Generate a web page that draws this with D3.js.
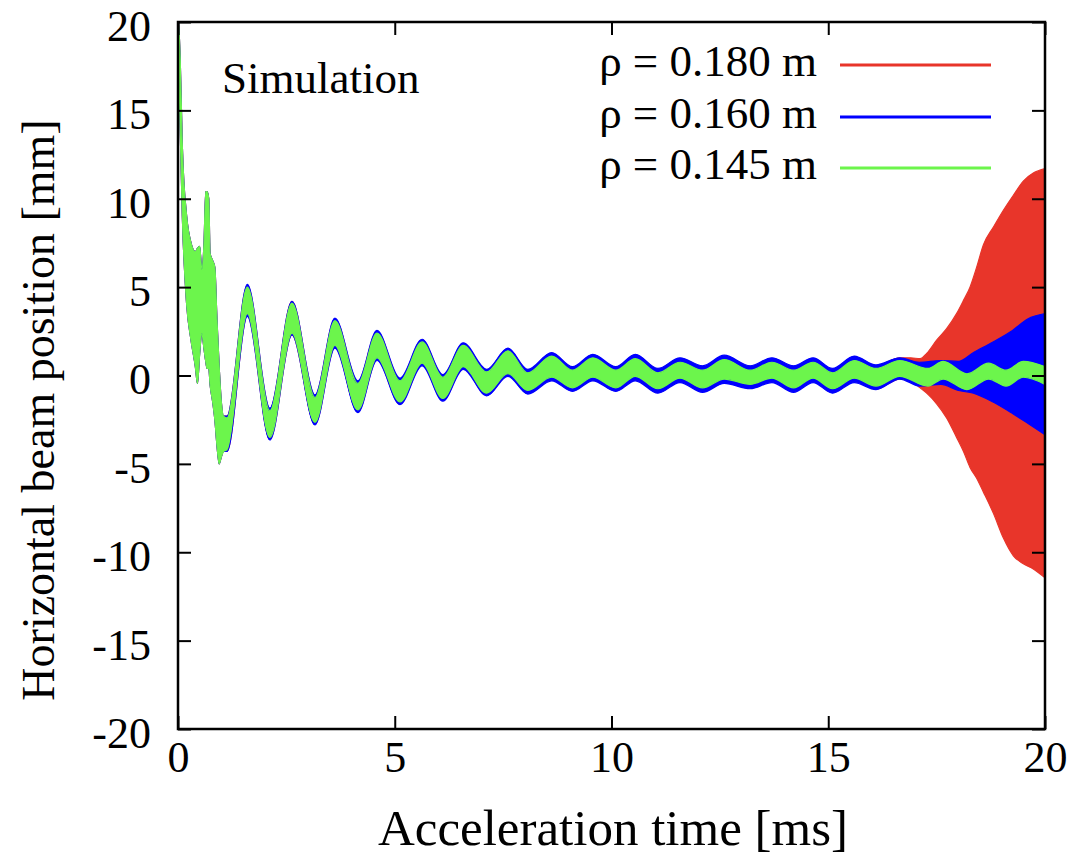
<!DOCTYPE html>
<html>
<head>
<meta charset="utf-8">
<script src="https://cdn.jsdelivr.net/npm/d3@7"></script>
<style>
  html, body { margin: 0; padding: 0; background: #fff; }
  svg text { font-family: "Liberation Serif", "Times New Roman", serif; fill: #000; }
</style>
</head>
<body>
<svg id="chart" width="1071" height="856"></svg>
<script>
// ---------------- data ----------------
const xTicks = [0, 5, 10, 15, 20];
const yTicks = [-20, -15, -10, -5, 0, 5, 10, 15, 20];
const seriesNames = ["ρ = 0.180 m", "ρ = 0.160 m", "ρ = 0.145 m"];
const seriesColors = ["#e8352a", "#0000ff", "#6cf54c"];

// early, noisy injection region (envelope common to all three runs)
const earlyT     = [0, 0.05, 0.1, 0.2, 0.3, 0.4, 0.45, 0.5, 0.55, 0.6, 0.64, 0.67, 0.71, 0.74, 0.8, 0.85, 0.9, 0.95, 1.0, 1.05];
const earlyUpper = [20.5, 18, 13, 9, 7.5, 7, 7.2, 7.3, 6, 7.5, 10.4, 10.4, 10, 6.9, 6.5, 6.1, 3.1, 0.5, -1.5, -2.3];
const earlyLower = [19.5, 14, 9, 4, 2, 0.5, -0.45, 1.25, 2.4, 1.5, 0.8, 0.4, 0.4, -0.5, -1.5, -2.5, -4, -5.0, -4.6, -4.3];

// damped betatron oscillation (peaks / troughs), band centre and half widths
const oscT      = [1.13, 1.6, 2.12, 2.63, 3.16, 3.62, 4.15, 4.59, 5.12, 5.63, 6.11, 6.58, 7.12, 7.61, 8.07, 8.62, 9.1, 9.57, 10.1, 10.55, 11.07, 11.58, 12.1, 12.6, 13.2, 13.7, 14.2, 14.65, 15.1, 15.6, 16.1, 16.65];
const oscCenter = [-3.3, 4.25, -2.75, 3.25, -1.95, 2.4, -1.2, 1.7, -0.9, 1.3, -0.7, 1.1, -0.4, 0.75, -0.35, 0.5, -0.2, 0.45, -0.2, 0.45, -0.3, 0.3, -0.2, 0.35, -0.1, 0.3, -0.2, 0.3, -0.3, 0.35, -0.1, 0.4];
const greenHalf = [0.9, 0.75, 0.75, 0.85, 0.7, 0.7, 0.75, 0.7, 0.6, 0.6, 0.6, 0.6, 0.6, 0.65, 0.5, 0.6, 0.5, 0.55, 0.5, 0.5, 0.45, 0.45, 0.5, 0.55, 0.4, 0.45, 0.5, 0.45, 0.45, 0.5, 0.5, 0.45];
const blueHalf  = [1.0, 0.9, 0.9, 0.95, 0.85, 0.85, 0.9, 0.85, 0.75, 0.75, 0.75, 0.75, 0.75, 0.8, 0.7, 0.8, 0.7, 0.75, 0.7, 0.75, 0.7, 0.7, 0.75, 0.8, 0.65, 0.7, 0.75, 0.7, 0.7, 0.75, 0.7, 0.6];
const redHalf   = [1.0, 0.85, 0.85, 0.95, 0.8, 0.8, 0.85, 0.8, 0.7, 0.7, 0.7, 0.7, 0.7, 0.75, 0.65, 0.75, 0.65, 0.7, 0.65, 0.7, 0.65, 0.65, 0.7, 0.75, 0.6, 0.65, 0.7, 0.65, 0.65, 0.7, 0.65, 0.6];

// late part of each run
const greenTailT      = [17.3, 17.65, 18.2, 18.7, 19.1, 19.5, 20.0];
const greenTailCenter = [-0.1, 0.3, -0.35, 0.25, -0.15, 0.35, 0.0];
const greenTailHalf   = [0.5, 0.5, 0.45, 0.45, 0.45, 0.45, 0.5];

const blueTailT     = [17.1, 17.6, 18.0, 18.35, 18.8, 19.25, 19.6, 20.0];
const blueTailUpper = [0.75, 0.85, 0.8, 1.3, 1.9, 2.55, 3.2, 3.5];
const blueTailLower = [-0.6, -0.5, -0.85, -1.0, -1.5, -2.15, -2.7, -3.35];

const redTailT     = [16.9, 17.12, 17.27, 17.5, 17.73, 17.96, 18.12, 18.27, 18.42, 18.58, 18.81, 19.04, 19.27, 19.5, 19.73, 20.0];
const redTailUpper = [1.0, 0.95, 1.25, 2.0, 2.65, 3.5, 4.25, 5.0, 6.1, 7.4, 8.4, 9.35, 10.2, 11.0, 11.45, 11.7];
const redTailLower = [-0.3, -0.7, -1.0, -1.6, -2.4, -3.5, -4.3, -5.2, -5.8, -6.6, -7.8, -9.2, -10.2, -10.65, -10.95, -11.45];

// ---------------- layout ----------------
const plot = { left: 178, right: 1045, top: 22, bottom: 729 };

const svg = d3.select("#chart");
const x = d3.scaleLinear().domain([0, 20]).range([plot.left, plot.right]);
const y = d3.scaleLinear().domain([-20, 20]).range([plot.bottom, plot.top]);

svg.append("defs").append("clipPath").attr("id", "clip")
  .append("rect").attr("x", plot.left).attr("y", plot.top)
  .attr("width", plot.right - plot.left).attr("height", plot.bottom - plot.top);

// build band records {t, lo, hi}
function earlyBand() {
  return earlyT.map((t, i) => ({ t, lo: earlyLower[i], hi: earlyUpper[i] }));
}
function oscBand(half) {
  return oscT.map((t, i) => ({ t, lo: oscCenter[i] - half[i], hi: oscCenter[i] + half[i] }));
}
const redBand = earlyBand().concat(oscBand(redHalf),
  redTailT.map((t, i) => ({ t, lo: redTailLower[i], hi: redTailUpper[i] })));
const blueBand = earlyBand().concat(oscBand(blueHalf),
  blueTailT.map((t, i) => ({ t, lo: blueTailLower[i], hi: blueTailUpper[i] })));
const greenBand = earlyBand().concat(oscBand(greenHalf),
  greenTailT.map((t, i) => ({ t, lo: greenTailCenter[i] - greenTailHalf[i], hi: greenTailCenter[i] + greenTailHalf[i] })));

const area = d3.area()
  .x(d => x(d.t)).y0(d => y(d.lo)).y1(d => y(d.hi))
  .curve(d3.curveMonotoneX);

const gData = svg.append("g").attr("clip-path", "url(#clip)");
[redBand, blueBand, greenBand].forEach((band, i) => {
  gData.append("path").datum(band)
    .attr("d", area)
    .attr("fill", seriesColors[i])
    .attr("stroke", seriesColors[i])
    .attr("stroke-width", 1.2)
    .attr("stroke-linejoin", "round");
});

// ---------------- axes ----------------
const tickFont = 44;
const fmt = d => String(d);
const gx = svg.append("g").attr("transform", `translate(0,${plot.bottom})`)
  .call(d3.axisBottom(x).tickValues(xTicks).tickSize(-13).tickPadding(12).tickFormat(fmt));
const gxTop = svg.append("g").attr("transform", `translate(0,${plot.top})`)
  .call(d3.axisTop(x).tickValues(xTicks).tickSize(-13).tickFormat(""));
const gy = svg.append("g").attr("transform", `translate(${plot.left},0)`)
  .call(d3.axisLeft(y).tickValues(yTicks).tickSize(-13).tickPadding(27).tickFormat(fmt));
const gyR = svg.append("g").attr("transform", `translate(${plot.right},0)`)
  .call(d3.axisRight(y).tickValues(yTicks).tickSize(-13).tickFormat(""));

[gx, gxTop, gy, gyR].forEach(g => {
  g.attr("font-family", null).attr("font-size", null);
  g.select(".domain").remove();
  g.selectAll(".tick line").attr("stroke", "#000").attr("stroke-width", 2);
  g.selectAll(".tick text").style("font-size", tickFont + "px")
    .style("font-family", '"Liberation Serif", serif').attr("fill", "#000");
});
gy.selectAll(".tick text").attr("dy", "0.42em");

svg.append("rect")
  .attr("x", plot.left).attr("y", plot.top)
  .attr("width", plot.right - plot.left).attr("height", plot.bottom - plot.top)
  .attr("fill", "none").attr("stroke", "#000").attr("stroke-width", 2.5);

// axis titles
svg.append("text")
  .attr("x", 613).attr("y", 845)
  .attr("text-anchor", "middle").style("font-size", "51px")
  .text("Acceleration time [ms]");
svg.append("text")
  .attr("transform", `translate(54,410) rotate(-90)`)
  .attr("text-anchor", "middle").style("font-size", "46px")
  .text("Horizontal beam position [mm]");

// annotation
svg.append("text").attr("x", 222).attr("y", 93)
  .style("font-size", "45px").text("Simulation");

// legend
const legendRows = [65, 117, 168];
seriesNames.forEach((name, i) => {
  svg.append("text").attr("x", 817).attr("y", legendRows[i] + 11)
    .attr("text-anchor", "end").style("font-size", "45px").text(name);
  svg.append("line")
    .attr("x1", 840).attr("x2", 991)
    .attr("y1", legendRows[i]).attr("y2", legendRows[i])
    .attr("stroke", seriesColors[i]).attr("stroke-width", 3);
});
</script>
</body>
</html>
